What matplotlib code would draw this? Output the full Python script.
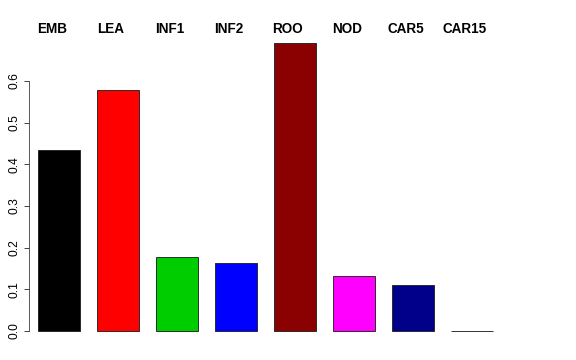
import matplotlib
matplotlib.use("Agg")
import matplotlib.pyplot as plt
import numpy as np

categories = ["EMB", "LEA", "INF1", "INF2", "ROO", "NOD", "CAR5", "CAR15"]
values = [0.434, 0.578, 0.178, 0.163, 0.691, 0.132, 0.110, 0.001]
colors = ["#000000", "#FF0000", "#00CD00", "#0000FF", "#8B0000", "#FF00FF", "#00008B", "#FFFFFF"]
yticks = [0.0, 0.1, 0.2, 0.3, 0.4, 0.5, 0.6]

plt.rcParams['font.family'] = ['Liberation Sans', 'DejaVu Sans']

W, H = 576, 360
fig = plt.figure(figsize=(W / 72, H / 72), dpi=72)
# axes placed in pixel coordinates
left_px, right_px = 29, 560
bottom_px, top_px = 331, 39
ax = fig.add_axes([left_px / W, 1 - bottom_px / H, (right_px - left_px) / W, (bottom_px - top_px) / H])

spacing_px = 59.0
x0 = (left_px - 59) / spacing_px
x1 = (right_px - 59) / spacing_px
ax.set_xlim(x0, x1)
ymax = 0.6 * (bottom_px - top_px) / 250.0
ax.set_ylim(0, ymax)

x = np.arange(len(categories))
width = 42 / 59
ax.bar(x, values, width=width, color=colors, edgecolor="#222222", linewidth=0.9, clip_on=False)

label_y = 0.6 * (bottom_px - 33) / 250.0
for xi, name in zip(x, categories):
    ax.text(xi - 7.3 / spacing_px, label_y, name, ha="center", va="baseline",
            fontsize=13.5, fontweight="bold", clip_on=False)

for s in ["top", "right", "bottom"]:
    ax.spines[s].set_visible(False)
ax.spines["left"].set_bounds(0, 0.6)
ax.spines["left"].set_color("#333333")
ax.set_xticks([])
ax.set_yticks(yticks)
ax.set_yticklabels([f"{v:.1f}" for v in yticks], rotation=90, va="center", fontsize=12)
ax.tick_params(axis="y", length=5, width=0.9, color="#333333", pad=3)
ax.patch.set_alpha(0)

fig.savefig("out.png", dpi=72)
